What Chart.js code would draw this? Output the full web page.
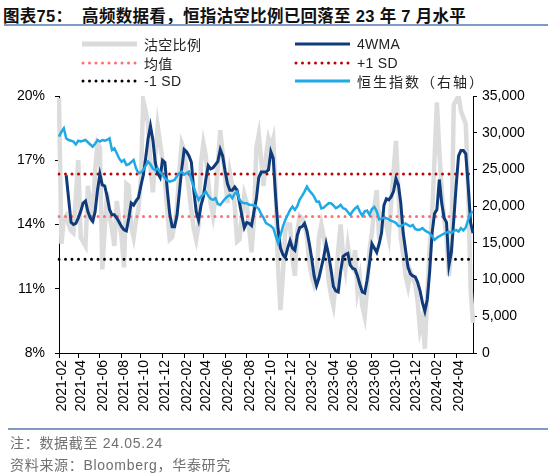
<!DOCTYPE html>
<html lang="zh-CN">
<head>
<meta charset="UTF-8">
<title>恒指沽空比例</title>
<script src="https://cdn.jsdelivr.net/npm/chart.js"></script>
<style>
    body {
        margin: 0;
        width: 550px;
        height: 475px;
        position: relative;
        overflow: hidden;
        background: #fff;
        font-family: Arial, "Liberation Sans", "Noto Sans CJK SC", sans-serif;
    }
    .title {
        position: absolute;
        left: 3px;
        top: 3px;
        font-size: 16.5px;
        letter-spacing: 0.3px;
        font-weight: bold;
        color: #111;
        white-space: nowrap;
    }
    .rule {
        position: absolute;
        left: 4px;
        right: 2px;
        height: 2px;
        background: #7f9ac4;
    }
    #chartBox {
        position: absolute;
        left: 0;
        top: 0;
        width: 550px;
        height: 475px;
    }
    .lg {
        position: absolute;
        height: 16px;
        display: flex;
        align-items: center;
        font-size: 14px;
        letter-spacing: 0.3px;
        color: #222;
        white-space: nowrap;
    }
    .lg svg { margin-right: 6px; }
    .foot {
        position: absolute;
        left: 10px;
        font-size: 14px;
        letter-spacing: 0.7px;
        color: #707070;
        white-space: nowrap;
    }
</style>
</head>
<body>
<div class="title">图表75：&nbsp;&nbsp;高频数据看，恒指沽空比例已回落至 23 年 7 月水平</div>
<div class="rule" style="top:24px"></div>

<div id="chartBox"><canvas id="shortChart"></canvas></div>

<div class="lg" style="left:81px;top:36px">
    <svg width="57" height="8"><line x1="1" y1="4" x2="56" y2="4" stroke="#dadada" stroke-width="5"/></svg>沽空比例</div>
<div class="lg" style="left:294px;top:36px">
    <svg width="57" height="8"><line x1="1" y1="4" x2="56" y2="4" stroke="#0f3b7a" stroke-width="3"/></svg>4WMA</div>
<div class="lg" style="left:81px;top:55px">
    <svg width="57" height="8"><line x1="2" y1="4" x2="56" y2="4" stroke="#ff6d6d" stroke-width="3" stroke-linecap="round" stroke-dasharray="0 6.5"/></svg>均值</div>
<div class="lg" style="left:294px;top:55px">
    <svg width="57" height="8"><line x1="2" y1="4" x2="56" y2="4" stroke="#c00000" stroke-width="3" stroke-linecap="round" stroke-dasharray="0 6.5"/></svg>+1 SD</div>
<div class="lg" style="left:81px;top:73px">
    <svg width="57" height="8"><line x1="2" y1="4" x2="56" y2="4" stroke="#000" stroke-width="3" stroke-linecap="round" stroke-dasharray="0 6.5"/></svg>-1 SD</div>
<div class="lg" style="left:294px;top:73px;letter-spacing:2px">
    <svg width="57" height="8"><line x1="1" y1="4" x2="56" y2="4" stroke="#1fa9e6" stroke-width="3"/></svg>恒生指数（右轴）</div>

<div class="rule" style="top:428px;left:8px"></div>
<div class="foot" style="top:432px">注：数据截至 24.05.24</div>
<div class="foot" style="top:454px">资料来源：Bloomberg，华泰研究</div>

<script>
    // weekly short-selling ratio (%)
    const shortRatio = [
        19.9, 13.1, 14.2, 14.4, 14.0, 13.7, 13.6, 15.3, 17.0, 13.4,
        13.2, 13.0, 15.8, 15.1, 14.1, 16.5, 17.8, 17.6, 11.9, 13.8,
        15.5, 14.4, 13.8, 13.0, 15.1, 14.2, 13.4, 12.0, 15.9, 15.8,
        13.9, 13.4, 14.2, 14.7, 16.1, 19.8, 19.3, 18.7, 16.7, 15.5,
        17.2, 18.6, 17.8, 17.0, 16.0, 14.6, 13.3, 13.4, 14.0, 14.8,
        16.5, 17.8, 17.5, 16.4, 15.6, 14.6, 13.8, 13.3, 14.0, 16.9,
        17.8, 17.2, 16.0, 15.0, 14.4, 15.2, 16.8, 18.4, 17.3, 16.2,
        15.0, 16.4, 15.8, 14.9, 13.2, 13.3, 14.4, 15.4, 15.0, 13.8,
        12.7, 14.3, 17.6, 18.2, 17.0, 15.8, 17.2, 18.0, 17.6, 18.0,
        15.6, 12.0, 10.0, 11.6, 13.7, 14.0, 14.0, 12.4, 11.6, 13.7,
        14.4, 14.3, 14.0, 13.4, 12.2, 11.6, 11.2, 11.6, 13.4, 14.0,
        13.4, 12.8, 11.4, 10.7, 10.2, 11.3, 12.8, 14.0, 12.6, 11.9,
        13.0, 12.2, 12.0, 12.8, 10.9, 11.5, 10.2, 9.7, 11.0, 12.8,
        13.6, 14.8, 15.6, 13.3, 14.4, 14.2, 14.0, 13.4, 15.0, 16.5,
        17.9, 15.6, 13.4, 12.6, 11.6, 11.1, 11.8, 11.5, 11.2, 10.4,
        9.1, 9.6, 8.2, 10.8, 12.9, 14.4, 17.0, 19.7, 17.4, 15.6,
        14.3, 13.4, 11.6, 12.8, 19.6, 19.8, 20.0, 19.3, 19.0, 18.7,
        15.6, 11.0, 9.4
    ];

    // 4-week moving average (%)
    const shortRatio4wma = [
        null, null, null, 16.3, 15.2, 14.1, 14.0, 14.05, 14.3, 14.6,
        15.0, 15.1, 14.6, 14.3, 14.15, 14.6, 15.6, 16.35, 15.85, 15.8,
        15.3, 14.7, 14.45, 14.45, 14.3, 14.1, 13.9, 13.75, 13.7, 14.3,
        15.0, 14.9, 15.1, 15.25, 15.8, 16.3, 17.1, 18.0, 18.6, 17.95,
        16.9, 16.4, 16.2, 17.0, 16.9, 15.6, 14.5, 13.9, 13.9, 14.4,
        15.5, 16.6, 17.5, 17.4, 17.2, 16.9, 15.6, 14.6, 14.2, 14.9,
        15.3, 16.1, 16.75, 16.6, 16.65, 16.8, 16.95, 17.5, 17.2, 16.5,
        15.9, 15.6, 15.6, 15.75, 15.6, 15.0, 14.4, 13.85, 14.1, 14.05,
        13.95, 14.6, 15.2, 16.2, 16.45, 16.45, 16.45, 16.55, 17.4, 17.1,
        15.3, 13.8, 12.9, 12.6, 12.45, 12.9, 13.25, 12.9, 12.8, 13.5,
        13.85, 13.9, 14.05, 13.7, 13.1, 12.4, 11.6, 11.15, 11.5, 12.0,
        12.5, 13.1, 12.6, 11.9, 11.1, 10.9, 10.85, 11.8, 12.5, 12.6,
        12.65, 12.1, 11.95, 11.9, 11.6, 11.2, 10.85, 10.8, 11.4, 12.2,
        13.1, 12.9, 12.7, 13.1, 13.6, 14.9, 15.2, 15.15, 15.3, 15.55,
        16.15, 15.85, 15.0, 13.6, 12.8, 12.0, 11.7, 11.6, 11.55, 11.3,
        10.9, 10.35, 9.95, 10.5, 11.8, 13.6, 14.5, 14.7, 16.1, 15.0,
        14.3, 14.1, 12.1, 12.7, 14.2, 15.8, 17.2, 17.45, 17.45, 17.3,
        15.8, 14.1, 13.6
    ];

    // Hang Seng Index, right axis
    const hsiIndex = [
        29470, 30100, 30600, 29240, 29000, 28900, 28780, 28400, 28900, 28800,
        28900, 29010, 28700, 28400, 28100, 28500, 29000, 28800, 29000, 28900,
        29010, 29240, 27650, 27880, 27200, 26500, 26060, 26300, 25610, 25700,
        26000, 26290, 25160, 24500, 24600, 24900, 25500, 26060, 25700, 25100,
        24900, 25160, 24600, 24300, 23800, 23500, 23340, 23450, 23570, 24100,
        24500, 24700, 24300, 24500, 24700, 23570, 22600, 21600, 20850, 21300,
        21600, 21980, 21400, 21000, 20850, 21080, 20300, 20170, 20600, 21000,
        21300, 21530, 21080, 21700, 21980, 20850, 20500, 20400, 20400, 20200,
        20170, 20170, 19940, 19600, 18900, 18400, 17680, 17500, 17300, 17000,
        16000, 14960, 16000, 17200, 18130, 18800, 19490, 19940, 19490, 20000,
        20900, 21400, 21980, 22660, 22100, 21750, 21300, 20600, 20620, 19700,
        19800, 20100, 20400, 20400, 20100, 19720, 19900, 20170, 19720, 19600,
        19200, 18810, 19300, 19700, 19950, 19260, 18700, 19300, 19400, 18810,
        19600, 19900, 19300, 18200, 18300, 18400, 18360, 18200, 18000, 17900,
        17700, 17300, 17300, 17450, 17650, 17400, 17250, 17450, 16900, 16770,
        16800, 17000, 16700, 16500, 16320, 15900, 15410, 15700, 15900, 16090,
        16250, 16400, 16540, 16320, 16600, 16770, 16540, 17000, 16700, 17100,
        18130, 19000, 19260
    ];

    const meanValue = 14.37;
    const plusSd = 16.36;
    const minusSd = 12.38;

    const tickMonths = [
        '2021-02', '2021-04', '2021-06', '2021-08', '2021-10', '2021-12',
        '2022-02', '2022-04', '2022-06', '2022-08', '2022-10', '2022-12',
        '2023-02', '2023-04', '2023-06', '2023-08', '2023-10', '2023-12',
        '2024-02', '2024-04'
    ];

    // weekly dates (Fridays) from 2021-02-05
    const weeks = [];
    const start = Date.UTC(2021, 1, 5);
    for (let i = 0; i < shortRatio.length; i++) {
        weeks.push(new Date(start + i * 7 * 86400000).toISOString().slice(0, 10));
    }

    const flat = v => weeks.map(() => v);
    const dotted = (label, color, value, order) => ({
        label: label,
        data: flat(value),
        yAxisID: 'y',
        borderColor: color,
        borderWidth: 3,
        borderDash: [0, 6.5],
        borderCapStyle: 'round',
        pointRadius: 0,
        order: order
    });

    const ctx = document.getElementById('shortChart').getContext('2d');
    new Chart(ctx, {
        type: 'line',
        data: {
            labels: weeks,
            datasets: [
                {
                    label: '恒生指数（右轴）',
                    data: hsiIndex,
                    yAxisID: 'y1',
                    borderColor: '#1fa9e6',
                    borderWidth: 2.5,
                    pointRadius: 0,
                    order: 1
                },
                {
                    label: '4WMA',
                    data: shortRatio4wma,
                    yAxisID: 'y',
                    borderColor: '#0f3b7a',
                    borderWidth: 3,
                    pointRadius: 0,
                    order: 2
                },
                dotted('均值', '#ff6d6d', meanValue, 3),
                dotted('+1 SD', '#c00000', plusSd, 4),
                dotted('-1 SD', '#000000', minusSd, 5),
                {
                    label: '沽空比例',
                    data: shortRatio,
                    yAxisID: 'y',
                    borderColor: '#dcdcdc',
                    borderWidth: 4.5,
                    pointRadius: 0,
                    order: 6
                }
            ]
        },
        options: {
            responsive: true,
            maintainAspectRatio: false,
            animation: false,
            layout: { padding: { top: 96, left: 0, right: 0, bottom: 0 } },
            plugins: {
                legend: { display: false },
                tooltip: { enabled: false }
            },
            scales: {
                x: {
                    type: 'category',
                    grid: { drawOnChartArea: false, color: '#000', tickLength: 5 },
                    border: { color: '#000', width: 1 },
                    afterFit: s => { s.height = 122; },
                    ticks: {
                        autoSkip: false,
                        minRotation: 90,
                        maxRotation: 90,
                        padding: 2,
                        labelOffset: 3,
                        color: '#000',
                        font: { family: 'Arial, "Liberation Sans"', size: 14 },
                        callback: function (value, index) {
                            const m = weeks[index].slice(0, 7);
                            const prev = index > 0 ? weeks[index - 1].slice(0, 7) : '';
                            if (m !== prev && tickMonths.includes(m)) return m;
                            return null;
                        }
                    }
                },
                y: {
                    position: 'left',
                    min: 8,
                    max: 20,
                    grid: { drawOnChartArea: false, color: '#000', tickLength: 4 },
                    border: { color: '#000', width: 1 },
                    afterFit: s => { s.width = 59; },
                    ticks: {
                        stepSize: 3,
                        padding: 10,
                        color: '#000',
                        font: { family: 'Arial, "Liberation Sans"', size: 14 },
                        callback: v => v + '%'
                    }
                },
                y1: {
                    position: 'right',
                    min: 0,
                    max: 35000,
                    grid: { drawOnChartArea: false, color: '#000', tickLength: 4 },
                    border: { color: '#000', width: 1 },
                    afterFit: s => { s.width = 77; },
                    ticks: {
                        stepSize: 5000,
                        padding: 5,
                        color: '#000',
                        font: { family: 'Arial, "Liberation Sans"', size: 14 },
                        callback: v => v.toLocaleString('en-US')
                    }
                }
            }
        }
    });
</script>
</body>
</html>
